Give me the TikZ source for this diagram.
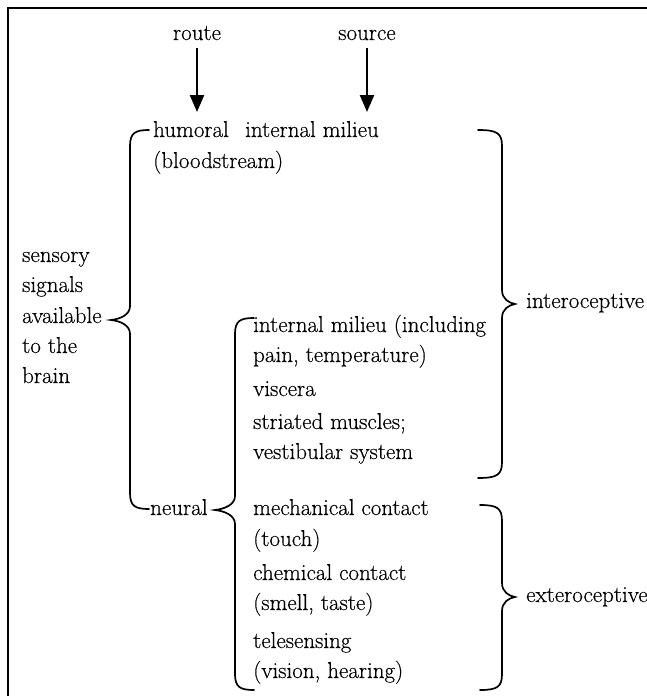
\documentclass[tikz,border=0pt]{standalone}
\usepackage{fontspec}
\setmainfont{Latin Modern Roman}[FakeBold=0.35]
\usetikzlibrary{arrows.meta}
\newcommand\mybraceL[6]{% arm x, spine x, cusp x, top y, cusp y, bottom y (pixels, y down)
  \draw[bracestyle] (#1,-#4) .. controls (#2+5,-#4) and (#2,-#4-3) .. (#2,-#4-16)
    -- (#2,-#5+14) .. controls (#2,-#5+5) and (#3+9,-#5+1) .. (#3,-#5)
    .. controls (#3+9,-#5-1) and (#2,-#5-5) .. (#2,-#5-14)
    -- (#2,-#6+16) .. controls (#2,-#6+3) and (#2+5,-#6) .. (#1,-#6);}
\newcommand\mybraceR[6]{%
  \draw[bracestyle] (#1,-#4) .. controls (#2-5,-#4) and (#2,-#4-3) .. (#2,-#4-16)
    -- (#2,-#5+14) .. controls (#2,-#5+5) and (#3-6,-#5+1) .. (#3,-#5)
    .. controls (#3-6,-#5-1) and (#2,-#5-5) .. (#2,-#5-14)
    -- (#2,-#6+16) .. controls (#2,-#6+3) and (#2-5,-#6) .. (#1,-#6);}
\tikzset{
  txt/.style={anchor=base west, inner sep=0pt, font=\fontsize{23}{30}\selectfont},
  ctxt/.style={anchor=base, inner sep=0pt, font=\fontsize{23}{30}\selectfont},
  bracestyle/.style={line width=1.7pt, line cap=round},
  arr/.style={line width=2.4pt, -{Triangle[length=17pt,width=14pt]}},
  frame/.style={line width=2.4pt}
}
\begin{document}
\begin{tikzpicture}[x=1pt,y=1pt]
\useasboundingbox (0,0) rectangle (647,-696);
\draw[frame] (8,-700) -- (8,-8) -- (650,-8);

\node[ctxt] (route) at (197,-40) {route};
\node[ctxt] (source) at (367,-40) {source};
\coordinate (routeend) at (197,-112);
\coordinate (sourceend) at (367,-112);
\draw[arr] ([yshift=-8pt]route.south) -- (routeend);
\draw[arr] ([yshift=-8pt]source.south) -- (sourceend);

\node[txt] (humoral) at (153,-137) {humoral};
\node[txt] (blood) at (153,-168) {(bloodstream)};
\node[txt] (milieu) at (245,-137) {internal milieu};

\node[txt] (s1) at (22,-262) {sensory};
\node[txt] (s2) at (22,-292) {signals};
\node[txt] (s3) at (22,-323) {available};
\node[txt] (s4) at (22,-353) {to the};
\node[txt] (s5) at (22,-383) {brain};

\node[txt] (neural) at (150,-515) {neural};

\node[txt] (r1) at (253,-332) {internal milieu (including};
\node[txt] (r2) at (253,-362) {pain, temperature)};
\node[txt] (r3) at (253,-396) {viscera};
\node[txt] (r4) at (253,-429) {striated muscles;};
\node[txt] (r5) at (253,-459) {vestibular system};
\node[txt] (r6) at (253,-515) {mechanical contact};
\node[txt] (r7) at (253,-546) {(touch)};
\node[txt] (r8) at (253,-580) {chemical contact};
\node[txt] (r9) at (253,-610) {(smell, taste)};
\node[txt] (r10) at (253,-648) {telesensing};
\node[txt] (r11) at (253,-678) {(vision, hearing)};

\node[txt] (intero) at (526,-308) {interoceptive};
\node[txt] (extero) at (526,-602) {exteroceptive};

\mybraceL{149}{130}{111}{130}{320}{509}
\mybraceL{254}{235}{215}{318}{510}{690}
\mybraceR{478}{502}{515}{130}{304}{478}
\mybraceR{480}{502}{515}{505}{597}{690}
\end{tikzpicture}
\end{document}
